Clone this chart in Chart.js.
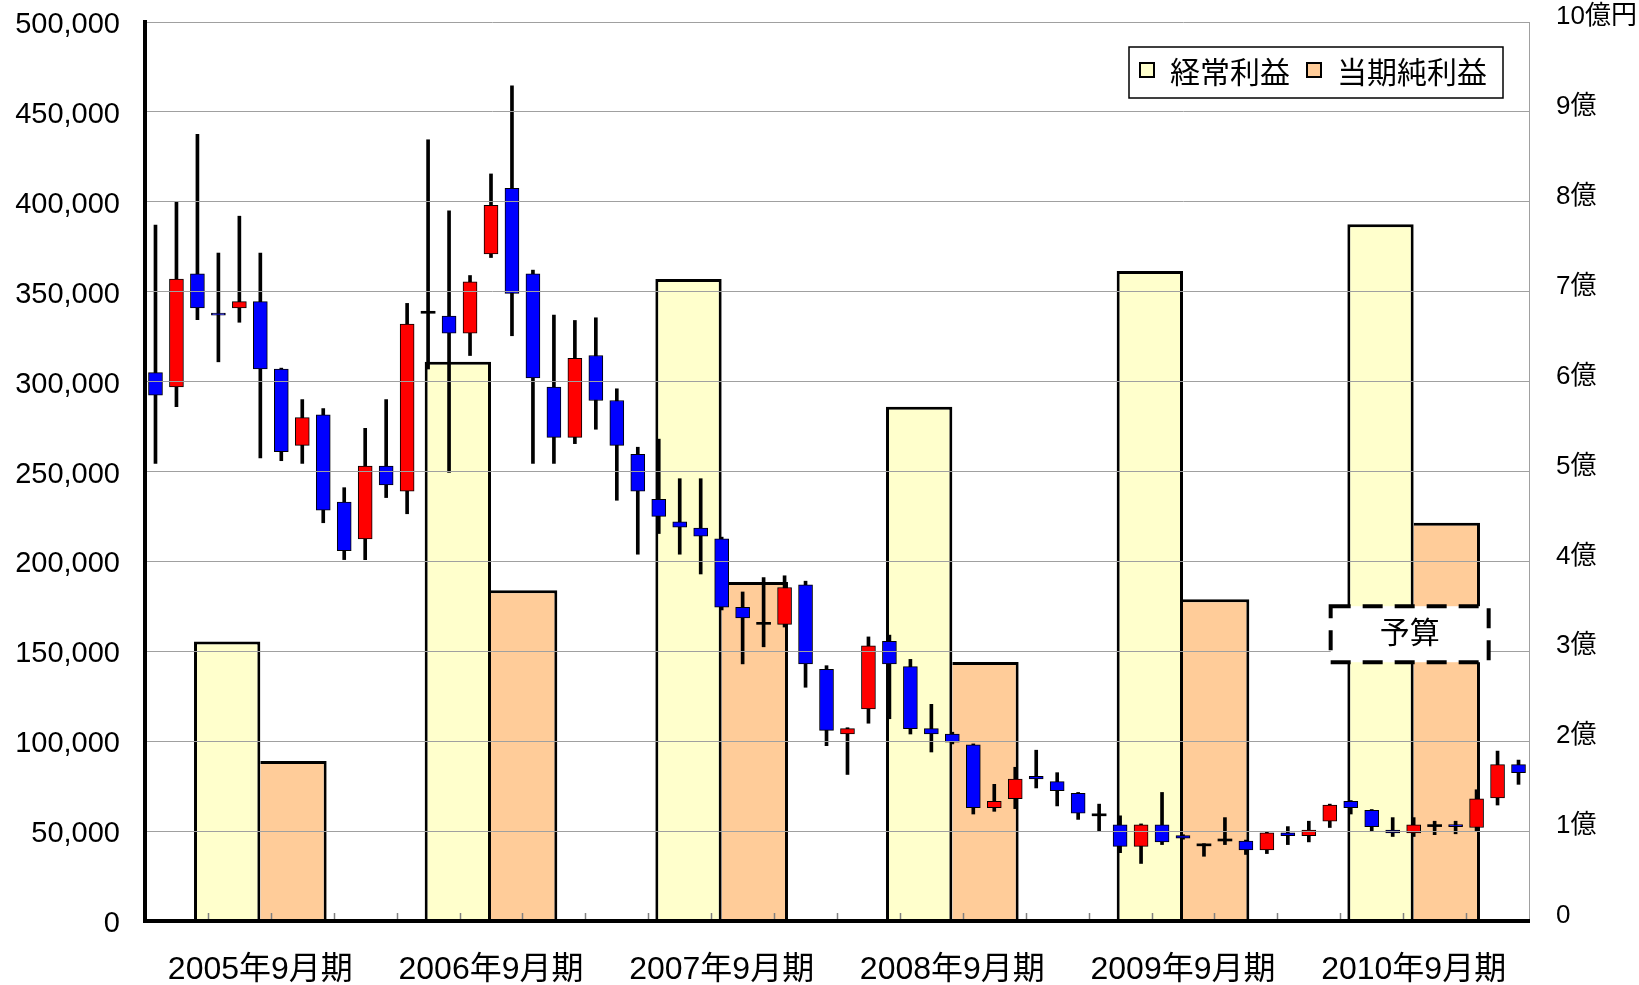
<!DOCTYPE html>
<html>
<head>
<meta charset="utf-8">
<script src="https://cdn.jsdelivr.net/npm/chart.js@4.4.1/dist/chart.umd.min.js"></script>
<style>
html,body{margin:0;padding:0;background:#fff;}
#wrap{width:1639px;height:985px;}
</style>
</head>
<body>
<div id="wrap"><canvas id="c" width="1639" height="985"></canvas></div>
<script>
// ---------- data ----------
const months = [
  '2005/04','2005/05','2005/06','2005/07','2005/08','2005/09','2005/10','2005/11','2005/12',
  '2006/01','2006/02','2006/03','2006/04','2006/05','2006/06','2006/07','2006/08','2006/09','2006/10','2006/11','2006/12',
  '2007/01','2007/02','2007/03','2007/04','2007/05','2007/06','2007/07','2007/08','2007/09','2007/10','2007/11','2007/12',
  '2008/01','2008/02','2008/03','2008/04','2008/05','2008/06','2008/07','2008/08','2008/09','2008/10','2008/11','2008/12',
  '2009/01','2009/02','2009/03','2009/04','2009/05','2009/06','2009/07','2009/08','2009/09','2009/10','2009/11','2009/12',
  '2010/01','2010/02','2010/03','2010/04','2010/05','2010/06','2010/07','2010/08','2010/09'
];
const openP = [305000,297000,360000,338000,341000,344500,307000,264500,281500,233000,212500,253000,239000,338000,
  336500,327000,371000,407500,360000,297000,269000,314500,289500,259500,234500,222000,218500,212500,174500,165000,
  165000,187000,140000,104000,118000,155500,141500,107000,104000,98000,63000,68000,80500,77500,71000,58500,
  53500,41500,53500,47500,41800,44500,44500,39500,49000,47500,55500,66500,61500,50500,49000,52500,53500,52000,68500,87000];
const highP = [387000,400000,437500,371500,392000,371500,307500,290000,285000,241000,274000,290000,343500,434500,
  395000,359000,415500,464500,362000,337000,334000,335500,296000,263500,268000,246000,246000,213500,183000,191000,
  192000,189000,142000,107500,158000,159000,145500,120500,105000,98500,76000,85500,95000,82500,71500,65000,
  58500,54000,71500,48000,43000,57500,45000,49500,52500,55500,65000,67000,62000,57500,57500,55500,55500,73000,94500,89500];
const lowP = [254500,286000,334500,311000,333000,257500,256000,254500,221500,201000,201000,235500,226500,307000,
  249500,314500,369000,325500,254500,254500,265500,273500,234000,204000,215500,204000,193000,173000,143000,152500,
  163500,130000,97500,81500,110000,112500,104000,94000,98500,59500,61000,62500,74000,64000,56500,50000,
  38000,32000,42500,45500,36000,42500,37000,37500,42500,44000,52000,59500,50000,47000,47000,48000,48500,50000,64500,76000];
const closeP = [292500,357000,341000,337000,344500,307000,261000,280000,228500,206000,253000,242500,332000,338000,
  327000,355500,398000,349000,302000,269000,313000,289500,264500,239000,225000,219000,214000,174500,168500,165000,
  185500,143000,106000,107000,153000,143000,107000,104000,99500,63000,66500,79000,79000,72500,60000,58500,
  41500,53500,44000,46000,41800,44500,39500,49000,47500,50500,64500,63000,52500,49000,53500,52500,52500,68000,87000,82500];

const fiscalYears = ['2005年9月期','2006年9月期','2007年9月期','2008年9月期','2009年9月期','2010年9月期'];
const seriesNames = ['経常利益','当期純利益'];
const ordinaryProfit = [3.11, 6.22, 7.14, 5.72, 7.23, 7.75];   // 億円
const netProfit      = [1.78, 3.68, 3.77, 2.88, 3.58, 4.43];   // 億円
const forecastIndex = 5;
const forecastLabel = '予算';
const rightUnitTop = '10億円';
const rightUnit = '億';

// ---------- styling ----------
const FONT = "'Liberation Sans', Arial, 'Noto Sans CJK JP', sans-serif";
Chart.defaults.font.family = FONT;
Chart.defaults.color = '#000';

const UP = '#FF0000', DOWN = '#0000FF', DOJI = '#000000';
const bodyColors = openP.map((o, i) => closeP[i] > o ? UP : (closeP[i] < o ? DOWN : DOJI));
const bodyBorders = openP.map((o, i) => closeP[i] === o ? 0 : 1);
const barColors = ['#FFFFCC', '#FFCC99'];

function noPad(s) { s.paddingTop = 0; s.paddingBottom = 0; s.paddingLeft = 0; s.paddingRight = 0; }

// quarterly tick marks on the bottom axis, drawn upward into the plot
const quarterTicks = {
  id: 'quarterTicks',
  afterDatasetsDraw(chart) {
    const xc = chart.scales.xc, {ctx, chartArea} = chart;
    const half = (xc.getPixelForValue(1) - xc.getPixelForValue(0)) / 2;
    ctx.save();
    ctx.strokeStyle = '#808080';
    ctx.lineWidth = 1.5;
    for (let k = 3; k < months.length; k += 3) {
      const x = Math.round(xc.getPixelForValue(k) - half) + 0.5;
      ctx.beginPath();
      ctx.moveTo(x, chartArea.bottom);
      ctx.lineTo(x, chartArea.bottom - 8);
      ctx.stroke();
    }
    ctx.restore();
  }
};

// boxed legend inside the plot (top right)
const boxLegend = {
  id: 'boxLegend',
  afterDraw(chart) {
    const {ctx, chartArea} = chart;
    ctx.save();
    ctx.font = '30px ' + FONT;
    const sw = 14, padL = 11, gapST = 16, gapItem = 17, padR = 16, h = 51;
    const items = chart.data.datasets
      .filter(d => seriesNames.includes(d.label))
      .map(d => ({text: d.label, color: d.backgroundColor}));
    let w = padL;
    items.forEach((it, i) => {
      it.w = ctx.measureText(it.text).width;
      w += sw + gapST + it.w + (i < items.length - 1 ? gapItem : padR);
    });
    const right = chartArea.right - 26, top = chartArea.top + 25, left = right - w;
    ctx.fillStyle = '#fff';
    ctx.fillRect(left, top, w, h);
    ctx.strokeStyle = '#000';
    ctx.lineWidth = 1.5;
    ctx.strokeRect(left, top, w, h);
    let x = left + padL;
    const cy = top + h / 2;
    items.forEach(it => {
      ctx.fillStyle = it.color;
      ctx.fillRect(x, cy - 9.5, sw, sw);
      ctx.lineWidth = 2;
      ctx.strokeStyle = '#000';
      ctx.strokeRect(x, cy - 9.5, sw, sw);
      x += sw + gapST;
      ctx.fillStyle = '#000';
      ctx.textBaseline = 'middle';
      ctx.textAlign = 'left';
      ctx.fillText(it.text, x, cy + 2);
      x += it.w + gapItem;
    });
    ctx.restore();
  }
};

// dashed "予算" (forecast) label over the last fiscal year bars
const forecastBox = {
  id: 'forecastBox',
  afterDraw(chart) {
    const {ctx} = chart;
    const xb = chart.scales.xb, y2 = chart.scales.y2;
    const cx = xb.getPixelForValue(forecastIndex) - 4;
    const cy = y2.getPixelForValue(3.19);
    const w = 158, h = 56;
    ctx.save();
    ctx.fillStyle = '#fff';
    ctx.fillRect(cx - w / 2, cy - h / 2, w, h);
    ctx.setLineDash([20, 12]);
    ctx.lineWidth = 4;
    ctx.strokeStyle = '#000';
    ctx.strokeRect(cx - w / 2, cy - h / 2, w, h);
    ctx.setLineDash([]);
    ctx.font = '30px ' + FONT;
    ctx.fillStyle = '#000';
    ctx.textAlign = 'center';
    ctx.textBaseline = 'middle';
    ctx.fillText(forecastLabel, cx, cy + 1);
    ctx.restore();
  }
};

new Chart(document.getElementById('c'), {
  type: 'bar',
  data: {
    labels: months,
    datasets: [
      {
        label: 'wick', data: lowP.map((l, i) => [l, highP[i]]), xAxisID: 'xc', yAxisID: 'y',
        backgroundColor: '#000', borderWidth: 0, barThickness: 3, grouped: false, order: 2
      },
      {
        label: 'body', data: openP.map((o, i) => [o, closeP[i]]), xAxisID: 'xc', yAxisID: 'y',
        backgroundColor: bodyColors, borderColor: '#000', borderWidth: bodyBorders, borderSkipped: false,
        barThickness: 14, minBarLength: 2, grouped: false, order: 1
      },
      {
        label: seriesNames[0], data: ordinaryProfit, xAxisID: 'xb', yAxisID: 'y2',
        backgroundColor: barColors[0], borderColor: '#000',
        borderWidth: {top: 3, left: 3, right: 3, bottom: 0}, borderSkipped: false,
        categoryPercentage: 1.15, barPercentage: 1, order: 3
      },
      {
        label: seriesNames[1], data: netProfit, xAxisID: 'xb', yAxisID: 'y2',
        backgroundColor: barColors[1], borderColor: '#000',
        borderWidth: {top: 3, left: 0, right: 3, bottom: 0}, borderSkipped: false,
        categoryPercentage: 1.15, barPercentage: 1, order: 3
      }
    ]
  },
  options: {
    indexAxis: 'x',
    responsive: false,
    devicePixelRatio: 1,
    animation: false,
    layout: {padding: {top: 22, left: 0, right: 0, bottom: 0}},
    plugins: {legend: {display: false}, tooltip: {enabled: false}},
    scales: {
      xc: {type: 'category', position: 'bottom', display: false, offset: true, grid: {display: false}},
      xb: {
        type: 'category', position: 'bottom', labels: fiscalYears, offset: true,
        grid: {display: false, drawTicks: false},
        border: {display: true, color: '#000', width: 4, z: 2},
        ticks: {font: {size: 32}, color: '#000', padding: 30, maxRotation: 0, autoSkip: false},
        afterFit(s) { s.height = 64; noPad(s); }
      },
      y: {
        position: 'left', min: 0, max: 500000, stacked: false,
        ticks: {stepSize: 50000, font: {size: 29}, color: '#000', padding: 25, labelOffset: 3,
                callback: v => v.toLocaleString('en-US')},
        grid: {color: '#a0a0a0', lineWidth: 1, drawTicks: false, z: 1},
        border: {color: '#000', width: 4, z: 2},
        afterFit(s) { s.width = 145; noPad(s); }
      },
      y2: {
        position: 'right', min: 0, max: 10, stacked: false,
        ticks: {stepSize: 1, font: {size: 26}, color: '#000', padding: 27, labelOffset: -5,
                callback: v => v === 0 ? '0' : (v === 10 ? rightUnitTop : v + rightUnit)},
        grid: {display: false, drawTicks: false},
        border: {color: '#a0a0a0', width: 1},
        afterFit(s) { s.width = 110; noPad(s); }
      }
    }
  },
  plugins: [quarterTicks, boxLegend, forecastBox]
});
</script>
</body>
</html>
